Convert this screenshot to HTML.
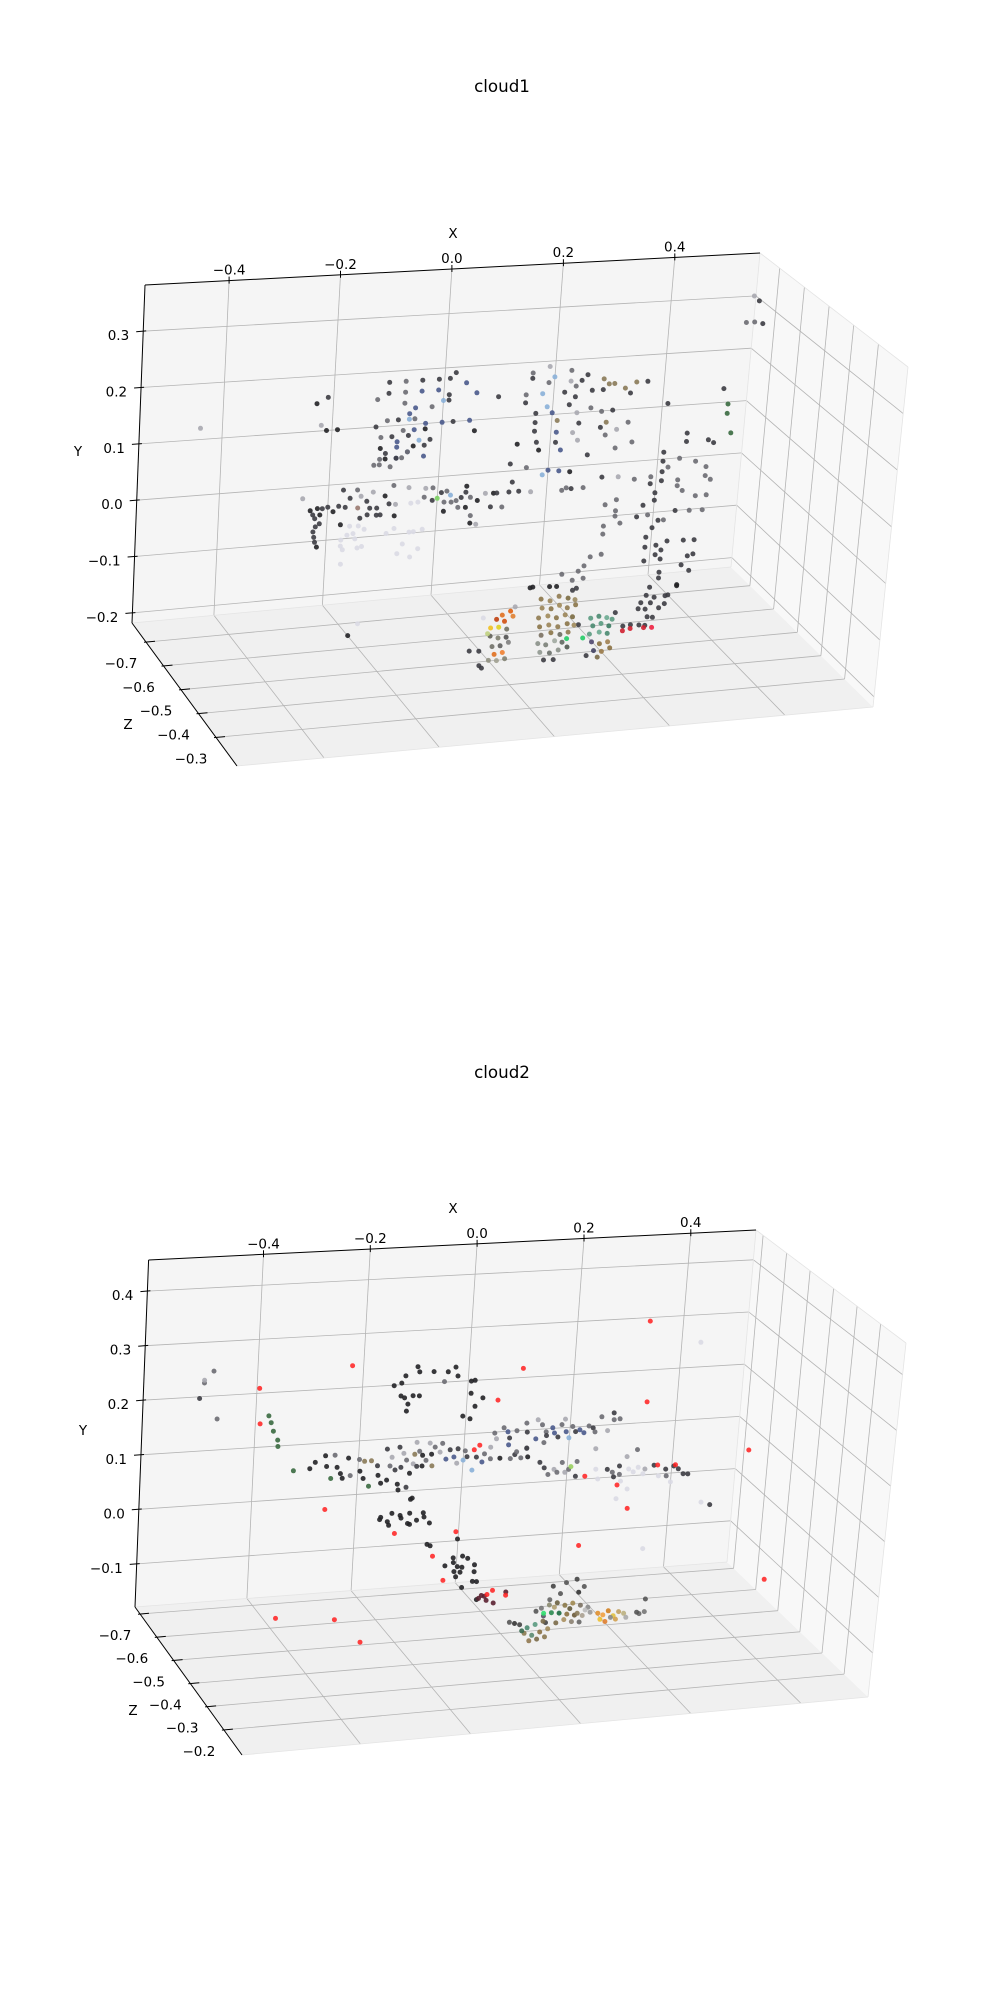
<!DOCTYPE html>
<html><head><meta charset="utf-8"><title>cloud1 / cloud2</title>
<style>
html,body{margin:0;padding:0;background:#fff;}
svg{display:block;font-family:"DejaVu Sans","Liberation Sans",sans-serif;}
</style></head>
<body>
<svg id="fig" width="1000" height="2000" viewBox="0 0 1000 2000" xmlns="http://www.w3.org/2000/svg">
<rect x="0" y="0" width="1000" height="2000" fill="#fff"/>
<text x="502" y="92" font-size="16.7" text-anchor="middle">cloud1</text>
<text x="502" y="1078" font-size="16.7" text-anchor="middle">cloud2</text>
<g id="plot1"></g>
<g id="plot2"></g>
</svg>
<script>
// ---------- tick values ----------
const c1XTicks = [-0.4, -0.2, 0.0, 0.2, 0.4];
const c1YTicks = [-0.2, -0.1, 0.0, 0.1, 0.2, 0.3];
const c1ZTicks = [-0.7, -0.6, -0.5, -0.4, -0.3];
const c1XTickLabels = ["\u22120.4","\u22120.2","0.0","0.2","0.4"];
const c1YTickLabels = ["\u22120.2","\u22120.1","0.0","0.1","0.2","0.3"];
const c1ZTickLabels = ["\u22120.7","\u22120.6","\u22120.5","\u22120.4","\u22120.3"];
const c2XTicks = [-0.4, -0.2, 0.0, 0.2, 0.4];
const c2YTicks = [-0.1, 0.0, 0.1, 0.2, 0.3, 0.4];
const c2ZTicks = [-0.7, -0.6, -0.5, -0.4, -0.3, -0.2];
const c2XTickLabels = ["\u22120.4","\u22120.2","0.0","0.2","0.4"];
const c2YTickLabels = ["\u22120.1","0.0","0.1","0.2","0.3","0.4"];
const c2ZTickLabels = ["\u22120.7","\u22120.6","\u22120.5","\u22120.4","\u22120.3","\u22120.2"];

// ---------- cloud1 points [x, y, colour] ----------
const c1UpperLeft = [
[-0.23,0.15,'k'],[-0.21,0.16,'d'],[-0.21,0.10,'k'],[-0.19,0.10,'k'],[-0.22,0.11,'l'],[-0.10,0.18,'d'],[-0.07,0.18,'g'],[-0.04,0.18,'d'],[-0.01,0.18,'d'],[0.01,0.18,'d'],[0.02,0.19,'d'],[0.04,0.17,'b'],
[-0.12,0.15,'g'],[-0.10,0.16,'d'],[-0.07,0.16,'g'],[-0.04,0.16,'b'],[-0.01,0.16,'b'],[0.01,0.15,'d'],[0.06,0.15,'b'],[-0.07,0.14,'g'],[-0.05,0.13,'b'],[-0.02,0.13,'g'],[0.00,0.14,'c'],[0.01,0.14,'d'],
[-0.06,0.12,'b'],[-0.10,0.11,'g'],[-0.08,0.11,'d'],[-0.06,0.11,'c'],[-0.05,0.11,'g'],[-0.03,0.10,'b'],[0.00,0.10,'b'],[0.02,0.10,'d'],[0.05,0.10,'b'],[0.06,0.08,'k'],[-0.12,0.10,'d'],[-0.09,0.08,'d'],
[-0.07,0.09,'g'],[-0.05,0.09,'b'],[-0.03,0.09,'k'],[-0.11,0.08,'g'],[-0.08,0.07,'b'],[-0.06,0.08,'d'],[-0.04,0.07,'c'],[-0.02,0.07,'d'],[-0.11,0.06,'k'],[-0.08,0.06,'b'],[-0.06,0.05,'b'],[-0.05,0.06,'k'],
[-0.03,0.06,'d'],[-0.10,0.05,'d'],[-0.08,0.04,'b'],[-0.06,0.05,'g'],[-0.03,0.04,'b'],[-0.11,0.04,'g'],[-0.10,0.04,'k'],[-0.08,0.04,'d'],[-0.07,0.04,'g'],[-0.12,0.03,'g'],[-0.11,0.03,'g'],[-0.09,0.025,'g'],
[0.10,0.14,'d'],[-0.44,0.12,'l']
];
const c1UpperRight = [
[0.19,0.19,'l'],[0.16,0.18,'g'],[0.20,0.17,'c'],[0.23,0.18,'g'],[0.26,0.17,'d'],[0.16,0.17,'d'],[0.19,0.16,'g'],[0.23,0.16,'l'],[0.25,0.16,'d'],[0.29,0.16,'n'],[0.31,0.15,'n'],[0.33,0.14,'n'],
[0.35,0.15,'n'],[0.37,0.15,'d'],[0.24,0.15,'g'],[0.27,0.14,'d'],[0.30,0.15,'n'],[0.34,0.13,'d'],[0.15,0.14,'g'],[0.18,0.14,'c'],[0.22,0.14,'d'],[0.24,0.13,'d'],[0.29,0.14,'d'],[0.15,0.125,'d'],
[0.19,0.115,'c'],[0.23,0.116,'d'],[0.27,0.107,'g'],[0.31,0.10,'d'],[0.17,0.104,'d'],[0.20,0.103,'b'],[0.245,0.10,'l'],[0.29,0.099,'g'],[0.17,0.087,'d'],[0.21,0.088,'n'],[0.25,0.08,'d'],[0.30,0.078,'n'],
[0.34,0.075,'g'],[0.17,0.071,'d'],[0.21,0.066,'b'],[0.24,0.063,'l'],[0.29,0.069,'d'],[0.32,0.063,'l'],[0.175,0.05,'d'],[0.21,0.047,'d'],[0.25,0.048,'l'],[0.30,0.054,'g'],[0.35,0.037,'g'],[0.14,0.049,'k'],
[0.18,0.035,'k'],[0.22,0.032,'b'],[0.27,0.019,'d'],[0.32,0.028,'g'],[0.13,0.013,'d'],[0.16,0.004,'g'],[0.20,-0.004,'b'],[0.22,-0.007,'b'],[0.19,-0.012,'c'],[0.24,-0.01,'k'],
[0.41,0.105,'d'],[0.51,0.126,'d'],[0.52,0.096,'G'],[0.52,0.078,'G'],[0.53,0.04,'G'],[0.55,0.30,'l'],[0.56,0.29,'d'],[0.54,0.25,'g'],[0.555,0.25,'g'],[0.57,0.246,'d']
];
const c1Pillar = [
[0.45,0.046,'d'],[0.45,0.03,'d'],[0.49,0.03,'d'],[0.50,0.024,'d'],[0.41,0.013,'d'],[0.41,-0.004,'d'],[0.44,-0.001,'g'],[0.47,-0.009,'g'],[0.42,-0.016,'g'],[0.49,-0.021,'g'],[0.41,-0.024,'d'],[0.41,-0.041,'d'],
[0.39,-0.032,'g'],[0.36,-0.034,'g'],[0.33,-0.027,'l'],[0.30,-0.025,'d'],[0.44,-0.042,'g'],[0.49,-0.038,'g'],[0.50,-0.046,'g'],[0.39,-0.045,'d'],[0.44,-0.053,'g'],[0.40,-0.063,'d'],[0.45,-0.063,'g'],[0.475,-0.075,'g'],
[0.495,-0.075,'g'],[0.40,-0.077,'d'],[0.38,-0.085,'d'],[0.44,-0.10,'d'],[0.466,-0.102,'g'],[0.49,-0.103,'g'],[0.33,-0.07,'g'],[0.31,-0.078,'g'],[0.33,-0.091,'g'],[0.33,-0.101,'g'],[0.37,-0.106,'d'],[0.39,-0.104,'g'],
[0.41,-0.116,'d'],[0.42,-0.116,'g'],[0.34,-0.115,'g'],[0.31,-0.118,'g'],[0.40,-0.129,'d'],[0.31,-0.133,'g'],[0.39,-0.146,'d'],[0.43,-0.157,'d'],[0.46,-0.158,'d'],[0.48,-0.159,'d'],[0.39,-0.165,'d'],[0.41,-0.163,'d'],
[0.42,-0.173,'d'],[0.41,-0.181,'d'],[0.47,-0.189,'d'],[0.48,-0.186,'d'],[0.42,-0.19,'d'],[0.39,-0.191,'d'],[0.46,-0.205,'d'],[0.475,-0.217,'d'],[0.42,-0.215,'d'],[0.42,-0.226,'d'],[0.455,-0.242,'k'],[0.455,-0.244,'k'],
[0.29,-0.174,'g'],[0.31,-0.171,'g'],[0.28,-0.19,'g'],[0.27,-0.199,'g'],[0.28,-0.213,'g'],[0.24,-0.202,'g'],[0.26,-0.215,'g']
];
const c1LeftBand = [
[-0.247,-0.021,'l'],[-0.232,-0.044,'k'],[-0.227,-0.052,'d'],[-0.219,-0.041,'k'],[-0.21,-0.042,'d'],[-0.20,-0.04,'d'],[-0.223,-0.059,'d'],[-0.214,-0.053,'k'],[-0.221,-0.074,'d'],[-0.225,-0.083,'d'],[-0.223,-0.093,'d'],[-0.221,-0.102,'d'],
[-0.217,-0.111,'k'],[-0.214,-0.069,'d'],[-0.19,-0.049,'k'],[-0.18,-0.040,'d'],[-0.168,-0.043,'d'],[-0.173,-0.011,'d'],[-0.16,-0.027,'d'],[-0.145,-0.046,'#9a7a70'],[-0.147,-0.013,'g'],[-0.129,-0.035,'d'],[-0.123,-0.048,'d'],[-0.11,-0.049,'d'],
[-0.096,-0.028,'k'],[-0.088,-0.043,'d'],[-0.076,-0.045,'l'],[-0.118,-0.019,'l'],[-0.14,-0.025,'l'],[-0.127,-0.06,'d'],[-0.14,-0.065,'d'],[-0.11,-0.062,'d'],[-0.103,-0.062,'d'],[-0.077,-0.066,'k'],[-0.175,-0.074,'k'],[-0.158,-0.078,'w'],
[-0.142,-0.079,'w'],[-0.131,-0.086,'w'],[-0.151,-0.092,'w'],[-0.162,-0.094,'w'],[-0.173,-0.102,'w'],[-0.173,-0.113,'w'],[-0.169,-0.12,'w'],[-0.147,-0.102,'w'],[-0.134,-0.117,'w'],[-0.142,-0.119,'w'],[-0.09,-0.097,'w'],[-0.076,-0.089,'w'],
[-0.048,-0.098,'w'],[-0.04,-0.098,'w'],[-0.024,-0.095,'w'],[-0.059,-0.119,'w'],[-0.068,-0.136,'w'],[-0.044,-0.144,'w'],[-0.03,-0.13,'w'],[-0.171,-0.146,'w'],[-0.081,-0.01,'g'],[-0.053,-0.016,'l'],[-0.022,-0.02,'l'],[-0.009,-0.02,'g'],
[-0.048,-0.045,'w'],[-0.035,-0.044,'w'],[-0.024,-0.036,'g'],[-0.009,-0.043,'d'],[0.00,-0.04,'#7ad060'],[0.007,-0.03,'d'],[0.017,-0.028,'g'],[0.024,-0.036,'c'],[0.013,-0.048,'g'],[0.026,-0.049,'g'],[0.013,-0.065,'k'],[0.035,-0.047,'g'],
[0.044,-0.042,'d'],[0.053,-0.022,'k'],[0.052,-0.033,'d'],[0.061,-0.043,'g'],[0.074,-0.05,'k'],[0.053,-0.061,'k'],[0.039,-0.06,'g'],[0.063,-0.077,'g'],[0.063,-0.091,'k'],[0.074,-0.094,'l'],[0.088,-0.038,'l'],[0.103,-0.039,'k'],
[0.109,-0.039,'d'],[0.131,-0.039,'d'],[0.149,-0.039,'d'],[0.171,-0.042,'l'],[0.136,-0.021,'d'],[0.099,-0.064,'d'],[0.12,-0.066,'g'],[0.228,-0.044,'g'],[0.236,-0.04,'g'],[0.245,-0.042,'d'],[0.267,-0.042,'g'],
[-0.15,-0.278,'k'],[-0.133,-0.258,'w'],[0.10,-0.27,'w'],[0.158,-0.255,'l']
];
const c1Floor = [
[0.405,-0.242,'d'],[0.40,-0.257,'d'],[0.415,-0.262,'d'],[0.435,-0.261,'d'],[0.44,-0.26,'d'],[0.391,-0.27,'d'],[0.409,-0.272,'d'],[0.435,-0.276,'d'],[0.387,-0.281,'d'],[0.40,-0.283,'d'],[0.425,-0.283,'d'],[0.405,-0.298,'d'],
[0.415,-0.30,'d'],[0.391,-0.312,'d'],[0.402,-0.314,'d'],[0.361,-0.311,'d'],[0.375,-0.31,'d'],[0.345,-0.284,'d'],[0.361,-0.32,'#d02030'],[0.375,-0.317,'#d02030'],[0.40,-0.318,'#d02030'],[0.415,-0.319,'#ee2040'],
[0.183,-0.222,'k'],[0.188,-0.221,'k'],[0.219,-0.223,'k'],[0.232,-0.224,'k'],[0.269,-0.231,'d'],[0.262,-0.234,'d'],[0.078,-0.329,'d'],[0.096,-0.331,'d'],[0.098,-0.358,'d'],[0.103,-0.363,'d'],
[0.218,-0.36,'d'],[0.236,-0.361,'d'],[0.297,-0.36,'d'],[0.258,-0.324,'#22cc66'],[0.288,-0.326,'#22cc66'],[0.278,-0.30,'d']
];
const c1Objects = [
[0.135,-0.268,'#e07020'],[0.15,-0.262,'#e06010'],[0.125,-0.275,'#c04010'],[0.14,-0.28,'#d05010'],[0.155,-0.272,'#e08030'],[0.115,-0.29,'#f0c020'],[0.13,-0.29,'#e0d020'],[0.145,-0.295,'#707060'],[0.115,-0.305,'#606058'],[0.13,-0.31,'#808070'],
[0.145,-0.31,'#505050'],[0.12,-0.325,'#707068'],[0.135,-0.325,'#606060'],[0.15,-0.32,'#808080'],[0.125,-0.34,'#e07020'],[0.14,-0.338,'#f08030'],[0.115,-0.35,'#909080'],[0.13,-0.352,'#a0a090'],[0.145,-0.35,'#808070'],[0.11,-0.3,'#c0d080'],
[0.205,-0.245,'#8a7448'],[0.222,-0.25,'#9a8458'],[0.238,-0.243,'#8f7a50'],[0.255,-0.248,'#7a6a40'],[0.268,-0.252,'#9a8a60'],[0.208,-0.262,'#9a8458'],[0.225,-0.265,'#8a7448'],[0.24,-0.26,'#a08a5a'],[0.255,-0.266,'#8f7a50'],[0.27,-0.262,'#8a7448'],
[0.203,-0.28,'#8f7a50'],[0.22,-0.278,'#a08a5a'],[0.236,-0.283,'#8a7448'],[0.252,-0.279,'#9a8458'],[0.266,-0.284,'#7a6a40'],[0.206,-0.297,'#8a7448'],[0.223,-0.295,'#9a8458'],[0.24,-0.3,'#8f7a50'],[0.257,-0.296,'#8a7448'],[0.27,-0.3,'#a08a5a'],
[0.21,-0.313,'#7a7060'],[0.228,-0.31,'#8a7448'],[0.245,-0.315,'#6a6a60'],[0.26,-0.312,'#8f7a50'],[0.205,-0.328,'#8a9088'],[0.22,-0.332,'#7a8078'],[0.236,-0.326,'#a0a8a0'],[0.25,-0.33,'#606860'],[0.21,-0.345,'#909890'],[0.228,-0.348,'#6a706a'],
[0.244,-0.344,'#8a9088'],[0.26,-0.34,'#505850'],
[0.30,-0.29,'#5a9a80'],[0.315,-0.288,'#4a8a70'],[0.33,-0.292,'#6aaa90'],[0.34,-0.296,'#5a9a80'],[0.305,-0.305,'#4a8a70'],[0.32,-0.302,'#5a9a80'],[0.335,-0.308,'#3a7a60'],[0.30,-0.32,'#5a9a80'],[0.318,-0.318,'#6aaa90'],[0.333,-0.322,'#4a8a70'],
[0.305,-0.335,'#504870'],[0.32,-0.34,'#8a7040'],[0.335,-0.338,'#a08050'],[0.31,-0.352,'#404060'],[0.325,-0.355,'#9a7a48'],[0.34,-0.35,'#8a7040'],[0.318,-0.365,'#7a6a48']
];

// ---------- cloud2 points [x, y, colour] ----------
const c2Arch = [
[-0.221,0.241,'r'],[-0.097,0.232,'k'],[-0.093,0.222,'k'],[-0.066,0.221,'k'],[-0.039,0.219,'k'],[-0.025,0.227,'k'],[-0.02,0.21,'k'],[-0.119,0.216,'k'],[-0.126,0.203,'k'],[-0.14,0.199,'k'],[-0.045,0.201,'g'],[0.006,0.199,'k'],
[0.013,0.2,'k'],[0.103,0.217,'r'],[-0.126,0.179,'k'],[-0.119,0.175,'k'],[-0.103,0.178,'k'],[-0.091,0.177,'k'],[-0.112,0.163,'k'],[-0.114,0.15,'k'],[0.007,0.176,'k'],[0.03,0.166,'k'],[0.016,0.151,'k'],[-0.006,0.134,'k'],
[0.008,0.128,'k'],[0.059,0.16,'r']
];
const c2LeftBand = [
[-0.323,0.052,'G'],[-0.292,0.054,'k'],[-0.282,0.065,'k'],[-0.263,0.076,'k'],[-0.245,0.076,'g'],[-0.26,0.056,'k'],[-0.24,0.053,'k'],[-0.233,0.041,'k'],[-0.251,0.033,'G'],[-0.229,0.032,'k'],[-0.219,0.069,'k'],[-0.198,0.065,'g'],
[-0.214,0.036,'g'],[-0.196,0.043,'k'],[-0.189,0.029,'k'],[-0.178,0.014,'G'],[-0.188,0.061,'n'],[-0.175,0.061,'n'],[-0.163,0.051,'d'],[-0.161,0.033,'k'],[-0.155,0.018,'k'],[-0.146,0.081,'d'],[-0.136,0.065,'l'],[-0.139,0.049,'g'],
[-0.129,0.041,'d'],[-0.144,0.023,'k'],[-0.123,0.014,'k'],[-0.121,0.003,'k'],[-0.122,0.083,'d'],[-0.114,0.071,'l'],[-0.108,0.058,'g'],[-0.118,0.045,'d'],[-0.101,0.033,'k'],[-0.095,0.05,'l'],[-0.09,0.09,'l'],[-0.093,0.068,'n'],
[-0.084,0.073,'g'],[-0.078,0.065,'k'],[-0.088,0.045,'d'],[-0.078,0.045,'k'],[-0.071,0.055,'g'],[-0.065,0.087,'l'],[-0.055,0.079,'g'],[-0.061,0.066,'k'],[-0.059,0.044,'n'],[-0.045,0.069,'l'],[-0.041,0.085,'g'],[-0.033,0.055,'b'],
[-0.026,0.072,'d'],[-0.018,0.058,'b'],[-0.011,0.073,'d'],[-0.012,0.046,'l'],[0.0,0.051,'c'],[0.003,0.068,'g'],[0.007,0.057,'d'],[0.018,0.031,'c'],[0.02,0.069,'r'],[0.03,0.077,'r'],[0.025,0.055,'d'],[0.036,0.045,'b'],
[0.04,0.06,'g'],[0.052,0.05,'g'],[0.07,0.05,'k'],[0.09,0.048,'g'],[0.11,0.048,'g'],[0.123,0.049,'k'],[0.12,0.065,'g'],[0.098,0.055,'d'],[0.051,0.072,'l'],[0.085,0.074,'b'],[0.101,0.06,'g']
];
const c2UpperBand = [
[0.057,0.098,'g'],[0.061,0.087,'l'],[0.074,0.107,'g'],[0.082,0.099,'b'],[0.086,0.087,'d'],[0.099,0.1,'g'],[0.117,0.113,'g'],[0.119,0.096,'d'],[0.136,0.082,'b'],[0.138,0.118,'l'],[0.147,0.108,'g'],[0.155,0.094,'g'],
[0.156,0.087,'d'],[0.167,0.101,'b'],[0.171,0.091,'b'],[0.178,0.083,'d'],[0.184,0.106,'g'],[0.19,0.116,'l'],[0.193,0.092,'b'],[0.199,0.08,'c'],[0.205,0.101,'g'],[0.211,0.091,'d'],[0.219,0.094,'b'],[0.227,0.088,'b'],
[0.236,0.1,'g'],[0.244,0.096,'d'],[0.248,0.088,'g'],[0.259,0.116,'g'],[0.272,0.089,'l'],[0.282,0.122,'d'],[0.283,0.109,'g'],[0.294,0.11,'g'],[0.152,0.074,'g'],[0.12,0.066,'d']
];
const c2RightBand = [
[0.147,0.037,'d'],[0.156,0.026,'d'],[0.164,0.013,'g'],[0.175,0.022,'l'],[0.181,0.016,'g'],[0.19,0.034,'g'],[0.196,0.015,'l'],[0.203,0.02,'g'],[0.207,0.025,'#9ad060'],[0.217,0.006,'d'],[0.218,0.034,'g'],[0.235,0.005,'r'],
[0.252,0.056,'l'],[0.255,0.017,'w'],[0.26,-0.002,'w'],[0.277,0.015,'d'],[0.287,0.009,'g'],[0.29,0.0,'d'],[0.3,0.02,'d'],[0.301,0.004,'g'],[0.304,-0.009,'w'],[0.298,-0.016,'r'],[0.313,0.037,'l'],[0.318,0.013,'w'],
[0.327,0.007,'w'],[0.332,0.049,'g'],[0.336,0.015,'w'],[0.346,0.002,'w'],[0.349,0.011,'l'],[0.366,0.017,'d'],[0.373,0.017,'r'],[0.376,-0.004,'w'],[0.389,0.008,'d'],[0.391,-0.005,'g'],[0.404,0.013,'d'],[0.407,0.015,'r'],
[0.413,0.007,'d'],[0.423,-0.003,'d'],[0.432,-0.004,'d'],[0.40,-0.017,'w'],[0.318,-0.025,'w'],[0.298,-0.042,'w'],[0.321,-0.062,'r'],[0.479,-0.066,'d'],[0.462,-0.06,'w'],[0.545,0.034,'r'],[0.343,0.139,'r']
];
const c2Column = [
[-0.151,-0.046,'k'],[-0.153,-0.05,'k'],[-0.138,-0.055,'k'],[-0.135,-0.062,'k'],[-0.13,-0.04,'k'],[-0.114,-0.045,'k'],[-0.112,-0.05,'k'],[-0.099,-0.061,'k'],[-0.095,-0.063,'k'],[-0.096,-0.042,'k'],[-0.082,-0.056,'k'],[-0.07,-0.043,'k'],
[-0.068,-0.051,'k'],[-0.057,-0.063,'k'],[-0.096,-0.016,'k'],[-0.093,-0.014,'k'],[-0.106,0.007,'d'],[-0.123,-0.078,'r'],[-0.059,-0.103,'k'],[-0.053,-0.106,'k'],[-0.005,-0.083,'r'],[-0.001,-0.097,'k'],[-0.047,-0.126,'r'],[-0.022,-0.146,'k'],
[-0.007,-0.132,'k'],[-0.006,-0.141,'k'],[-0.004,-0.158,'k'],[0.002,-0.149,'k'],[0.011,-0.151,'k'],[0.008,-0.16,'k'],[0.0,-0.168,'k'],[0.011,-0.13,'k'],[0.021,-0.135,'k'],[0.035,-0.148,'k'],[0.035,-0.161,'k'],[0.033,-0.179,'k'],
[0.041,-0.18,'k'],[0.013,-0.189,'k'],[-0.024,-0.173,'r'],[0.043,-0.214,'k'],[0.052,-0.207,'D'],[0.058,-0.209,'D'],[0.063,-0.206,'r'],[0.062,-0.217,'D'],[0.076,-0.223,'D'],[0.073,-0.199,'r'],[0.099,-0.204,'D'],[0.099,-0.21,'r'],
[0.047,-0.212,'D']
];
const c2Blob = [
[0.19,-0.20,'#444'],[0.215,-0.195,'#555'],[0.235,-0.19,'#444'],[0.25,-0.205,'#555'],[0.24,-0.215,'#333'],[0.205,-0.215,'#555'],[0.185,-0.225,'#666'],
[0.17,-0.24,'#777'],[0.185,-0.235,'#8a8a70'],[0.2,-0.232,'#6a6040'],[0.215,-0.238,'#8a7848'],[0.23,-0.235,'#a08850'],[0.245,-0.24,'#7a7060'],[0.26,-0.245,'#888'],[0.175,-0.255,'#556'],[0.19,-0.25,'#2a8a50'],
[0.205,-0.252,'#1a6a40'],[0.22,-0.255,'#8a7040'],[0.235,-0.258,'#6a5a38'],[0.25,-0.26,'#aaa090'],[0.265,-0.255,'#999'],[0.18,-0.268,'#444'],[0.2,-0.27,'#7a6a48'],[0.215,-0.265,'#aa9060'],[0.23,-0.27,'#8a8070'],
[0.245,-0.272,'#666'],[0.16,-0.245,'#555'],[0.195,-0.24,'#b0a070'],[0.225,-0.245,'#605838'],[0.255,-0.25,'#bbb'],[0.24,-0.255,'#8a7a58'],[0.175,-0.25,'#30e070'],
[0.28,-0.258,'#e09030'],[0.29,-0.262,'#f0a040'],[0.3,-0.255,'#d08020'],[0.31,-0.265,'#e0c040'],[0.32,-0.258,'#c0a060'],[0.33,-0.262,'#bbb080'],[0.295,-0.275,'#e08030'],[0.315,-0.272,'#d0a050'],[0.285,-0.27,'#eec030'],
[0.305,-0.268,'#888'],[0.335,-0.27,'#aaa'],[0.36,-0.265,'#666'],[0.37,-0.262,'#777'],[0.355,-0.262,'#555'],[0.37,-0.238,'#555'],
[0.13,-0.268,'#444'],[0.145,-0.275,'#4a8a70'],[0.16,-0.27,'#5a9a80'],[0.175,-0.265,'#7a6a48'],[0.14,-0.285,'#8a7a50'],[0.155,-0.29,'#5a8a70'],[0.17,-0.285,'#8a7040'],[0.185,-0.28,'#a08858'],[0.15,-0.3,'#907850'],
[0.165,-0.298,'#7a6a48'],[0.18,-0.295,'#8a7850'],[0.135,-0.28,'#3a6a50'],[0.12,-0.265,'#333'],[0.11,-0.262,'#555']
];
const c2Outliers = [
[-0.508,0.197,'d'],[-0.5,0.225,'g'],[-0.483,0.246,'g'],[-0.5,0.23,'l'],[-0.473,0.157,'g'],[-0.395,0.209,'r'],[-0.391,0.143,'r'],[-0.375,0.157,'G'],[-0.37,0.144,'G'],[-0.365,0.128,'G'],[-0.356,0.111,'G'],[-0.355,0.099,'G'],
[0.337,0.293,'r'],[0.436,0.247,'w'],[-0.259,-0.024,'r'],[0.233,-0.126,'r'],[0.357,-0.141,'w'],[0.597,-0.218,'r'],[-0.343,-0.22,'r'],[-0.229,-0.231,'r'],[-0.177,-0.277,'r']
];

// ---------- rendering ----------
const NS = 'http://www.w3.org/2000/svg';
const PALETTE = {k:'#222226',d:'#3c3c42',g:'#6c6c72',l:'#a8a8b0',w:'#dadae4',b:'#4a5a8c',c:'#8ab0d8',n:'#8a7a58',G:'#3a6a40',r:'#ff1e1e',D:'#5a2030'};

function mk(parent, tag, attrs){
  const e = document.createElementNS(NS, tag);
  for (const k in attrs) e.setAttribute(k, attrs[k]);
  parent.appendChild(e);
  return e;
}
function lerp(a,b,t){return [a[0]+(b[0]-a[0])*t, a[1]+(b[1]-a[1])*t];}

function makeProj(C, R){
  return function(x,y,z){
    const u=(x-R.x0)/(R.x1-R.x0), v=(y-R.y0)/(R.y1-R.y0), w=(z-R.zb)/(R.zf-R.zb);
    const bb=lerp(C.BBL,C.BBR,u), bt=lerp(C.BTL,C.BTR,u);
    const fb=lerp(C.FBL,C.FBR,u), ft=lerp(C.FTL,C.FTR,u);
    const b=lerp(bb,bt,v), f=lerp(fb,ft,v);
    return lerp(b,f,w);
  };
}

function drawAxes(g, C, R, xt, yt, zt, xl, yl, zl, labels, depth, groups){
  const P = makeProj(C,R);
  const poly = (pts, fill, name) => {
    const el = mk(g,'polygon',{points: pts.map(p=>p[0].toFixed(1)+','+p[1].toFixed(1)).join(' '), fill: fill, stroke:'none'});
    
    
  };
  poly([P(R.x0,R.y0,R.zb),P(R.x1,R.y0,R.zb),P(R.x1,R.y1,R.zb),P(R.x0,R.y1,R.zb)], '#f5f5f5', 'back-pane');
  poly([P(R.x0,R.y0,R.zb),P(R.x1,R.y0,R.zb),P(R.x1,R.y0,R.zf),P(R.x0,R.y0,R.zf)], '#f0f0f0', 'floor-pane');
  poly([P(R.x1,R.y0,R.zb),P(R.x1,R.y1,R.zb),P(R.x1,R.y1,R.zf),P(R.x1,R.y0,R.zf)], '#f8f8f8', 'right-pane');

  const line = (a,b,stroke,sw,name) => {
    const el = mk(g,'line',{x1:a[0].toFixed(1),y1:a[1].toFixed(1),x2:b[0].toFixed(1),y2:b[1].toFixed(1),stroke:stroke,'stroke-width':sw});
    
    
    return el;
  };
  const GC = '#b4b4b4';
  xt.forEach(x=>{
    line(P(x,R.y0,R.zb),P(x,R.y1,R.zb),GC,0.8,'gridline-x-back');
    line(P(x,R.y0,R.zb),P(x,R.y0,R.zf),GC,0.8,'gridline-x-floor');
  });
  yt.forEach(y=>{
    line(P(R.x0,y,R.zb),P(R.x1,y,R.zb),GC,0.8,'gridline-y-back');
    line(P(R.x1,y,R.zb),P(R.x1,y,R.zf),GC,0.8,'gridline-y-right');
  });
  zt.forEach(z=>{
    line(P(R.x0,R.y0,z),P(R.x1,R.y0,z),GC,0.8,'gridline-z-floor');
    line(P(R.x1,R.y0,z),P(R.x1,R.y1,z),GC,0.8,'gridline-z-right');
  });
  // edges of panes
  line(P(R.x1,R.y1,R.zb),P(R.x1,R.y1,R.zf),'#e4e4e4',0.8,'pane-edge');
  line(P(R.x1,R.y1,R.zf),P(R.x1,R.y0,R.zf),'#e4e4e4',0.8,'pane-edge');
  line(P(R.x0,R.y0,R.zf),P(R.x1,R.y0,R.zf),'#e4e4e4',0.8,'pane-edge');
  line(P(R.x1,R.y0,R.zb),P(R.x1,R.y1,R.zb),'#e4e4e4',0.8,'pane-edge');
  line(P(R.x0,R.y0,R.zb),P(R.x1,R.y0,R.zb),'#e4e4e4',0.8,'pane-edge');
  // axis lines
  line(P(R.x0,R.y1,R.zb),P(R.x1,R.y1,R.zb),'#000',1,'x-axis-line');
  line(P(R.x0,R.y0,R.zb),P(R.x0,R.y1,R.zb),'#000',1,'y-axis-line');
  line(P(R.x0,R.y0,R.zb),P(R.x0,R.y0,R.zf),'#000',1,'z-axis-line');

  const text = (x,y,s,anchor,name,size) => {
    const el = mk(g,'text',{x:x.toFixed(1),y:y.toFixed(1),'font-size':size||13.5,'text-anchor':anchor,fill:'#000'});
    el.textContent = s;
    
    
  };
  xt.forEach((x,i)=>{
    const p=P(x,R.y1,R.zb);
    line([p[0],p[1]-4],[p[0],p[1]+3],'#000',1,'x-tick');
    text(p[0],p[1]-6,xl[i],'middle','x-tick-label');
  });
  yt.forEach((y,i)=>{
    const p=P(R.x0,y,R.zb);
    line([p[0]-7,p[1]+0.5],[p[0]+3,p[1]-0.3],'#000',1,'y-tick');
    text(p[0]-14,p[1]+9,yl[i],'end','y-tick-label');
  });
  zt.forEach((z,i)=>{
    const p=P(R.x0,R.y0,z);
    line([p[0]-2,p[1]+0.2],[p[0]+9,p[1]-0.8],'#000',1,'z-tick');
    text(p[0]-25,p[1]+26,zl[i],'middle','z-tick-label');
  });
  text(labels.X[0],labels.X[1],'X','middle','x-axis-title');
  text(labels.Y[0],labels.Y[1],'Y','middle','y-axis-title');
  text(labels.Z[0],labels.Z[1],'Z','middle','z-axis-title');

  groups.forEach(grp=>{
    const gg = mk(g,'g',{});
    
    
    grp.pts.forEach(pt=>{
      const p = P(pt[0], pt[1], depth);
      const col = PALETTE[pt[2]] || pt[2];
      const c = mk(gg,'circle',{cx:p[0].toFixed(1),cy:p[1].toFixed(1),r:2.5,fill:col,'fill-opacity':pt[2]==='r'?0.85:0.9});
      
      
    });
  });
}

const C1 = {BTL:[145,285],BTR:[760,253],BBL:[132,623],BBR:[731,567],FTL:[255,400],FTR:[908,367],FBL:[237,766],FBR:[873,707]};
const R1 = {x0:-0.551,x1:0.553,y0:-0.218,y1:0.382,zb:-0.78,zf:-0.18};
const C2 = {BTL:[148.6,1260],BTR:[756,1230],BBL:[135,1607],BBR:[727,1562],FTL:[260,1395],FTR:[906,1343],FBL:[242,1755],FBR:[868,1697]};
const R2 = {x0:-0.615,x1:0.522,y0:-0.179,y1:0.457,zb:-0.73,zf:-0.092};

drawAxes(document.getElementById('plot1'), C1, R1, c1XTicks, c1YTicks, c1ZTicks, c1XTickLabels, c1YTickLabels, c1ZTickLabels,
  {X:[453,238],Y:[78,456],Z:[128,729]}, R1.zb,
  [{name:'cloud1-upper-left',pts:c1UpperLeft},{name:'cloud1-upper-right',pts:c1UpperRight},{name:'cloud1-pillar',pts:c1Pillar},
   {name:'cloud1-left-band',pts:c1LeftBand},{name:'cloud1-floor',pts:c1Floor},{name:'cloud1-objects',pts:c1Objects}]);
drawAxes(document.getElementById('plot2'), C2, R2, c2XTicks, c2YTicks, c2ZTicks, c2XTickLabels, c2YTickLabels, c2ZTickLabels,
  {X:[453,1213],Y:[83,1435],Z:[133,1715]}, R2.zb,
  [{name:'cloud2-arch',pts:c2Arch},{name:'cloud2-left-band',pts:c2LeftBand},{name:'cloud2-upper-band',pts:c2UpperBand},
   {name:'cloud2-right-band',pts:c2RightBand},{name:'cloud2-column',pts:c2Column},{name:'cloud2-blob',pts:c2Blob},{name:'cloud2-outliers',pts:c2Outliers}]);
</script>
</body></html>
